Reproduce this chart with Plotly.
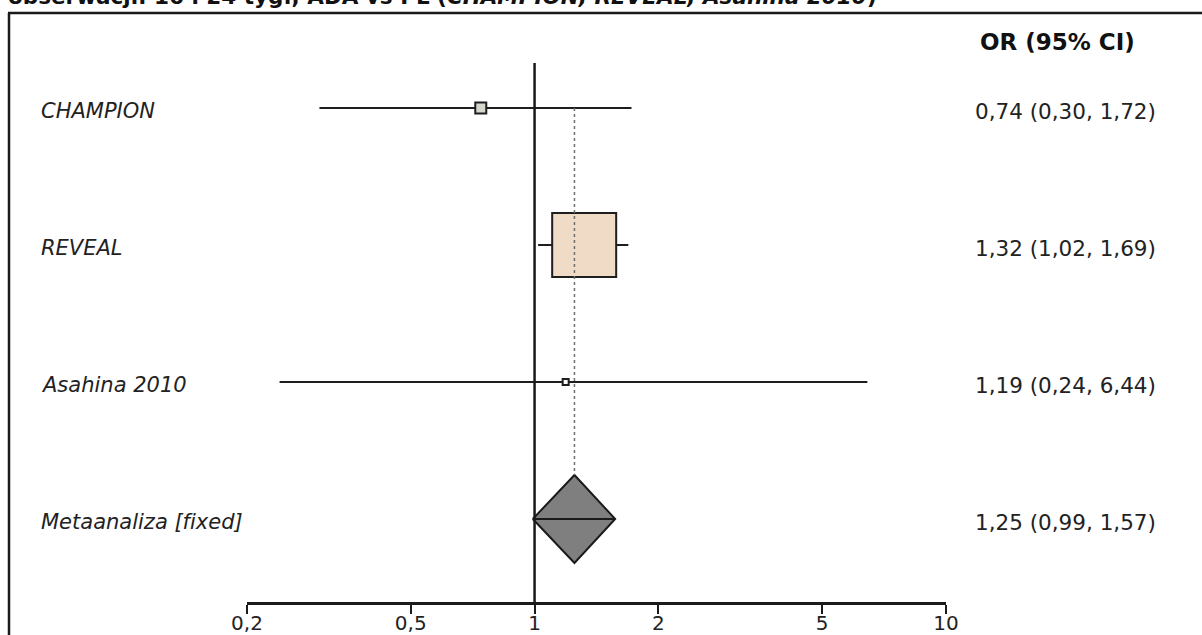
import plotly.graph_objects as go

# Study data: odds ratios with 95% confidence intervals
studies = ["CHAMPION", "REVEAL", "Asahina 2010"]
or_values = [0.74, 1.32, 1.19]
ci_low = [0.30, 1.02, 0.24]
ci_high = [1.72, 1.69, 6.44]
box_sizes = [11, 64, 6]
box_fills = ["#d6d6cf", "#f0dcc6", "#ffffff"]

pooled_label = "Metaanaliza [f\u200cixed]"
pooled_or = 1.25
pooled_low = 0.99
pooled_high = 1.57

tick_vals = [0.2, 0.5, 1, 2, 5, 10]
tick_text = ["0,2", "0,5", "1", "2", "5", "10"]

title_text = ("obserwacji: 16 i 24 tyg., ADA vs PL "
              "(<i>CHAMPION, REVEAL, Asahina 2010</i>)")
header_text = "OR (95% CI)"

W, H = 1202, 635
FONT = "DejaVu Sans"

# plot-area geometry (pixels)
X_LEFT, X_RIGHT = 247, 946
AXIS_Y = 602
ROW0_Y, ROW_STEP = 108, 137


def fx(p):
    """Pixel column -> paper x."""
    return p / W


def fy(p):
    """Pixel row (from top) -> paper y."""
    return (H - p) / H


def fmt(v):
    return f"{v:.2f}".replace(".", ",")


rows = list(range(len(studies)))
pooled_row = len(studies)
diamond_half = 44 / ROW_STEP

fig = go.Figure()

# confidence interval whiskers
for r, lo, hi in zip(rows, ci_low, ci_high):
    fig.add_trace(go.Scatter(x=[lo, hi], y=[r, r], mode="lines",
                             line=dict(color="#1e1e1e", width=1.8),
                             hoverinfo="skip", showlegend=False))

# study boxes
for r, v, s, c in zip(rows, or_values, box_sizes, box_fills):
    fig.add_trace(go.Scatter(x=[v], y=[r], mode="markers",
                             marker=dict(symbol="square", size=s, color=c,
                                         line=dict(color="#1e1e1e", width=2)),
                             showlegend=False))

# pooled estimate diamond
fig.add_trace(go.Scatter(
    x=[pooled_low, pooled_or, pooled_high, pooled_or, pooled_low],
    y=[pooled_row, pooled_row - diamond_half, pooled_row,
       pooled_row + diamond_half, pooled_row],
    mode="lines", fill="toself", fillcolor="#7f7f7f",
    line=dict(color="#1a1a1a", width=2), showlegend=False))
fig.add_trace(go.Scatter(x=[pooled_low, pooled_high],
                         y=[pooled_row, pooled_row], mode="lines",
                         line=dict(color="#1a1a1a", width=1.8),
                         showlegend=False))

shapes = []
# line of no effect
shapes.append(dict(type="line", xref="x", yref="paper", x0=1, x1=1,
                   y0=fy(AXIS_Y), y1=fy(63),
                   line=dict(color="#1a1a1a", width=2.5)))
# pooled estimate reference (dotted)
shapes.append(dict(type="line", xref="x", yref="y", x0=pooled_or,
                   x1=pooled_or, y0=0, y1=pooled_row - diamond_half,
                   line=dict(color="#6e6e6e", width=1.5, dash="dot")))
# outer frame
shapes.append(dict(type="line", xref="paper", yref="paper",
                   x0=fx(9), x1=fx(9), y0=fy(13), y1=fy(H + 5),
                   line=dict(color="#1a1a1a", width=2.5)))
shapes.append(dict(type="line", xref="paper", yref="paper",
                   x0=fx(8), x1=fx(W + 5), y0=fy(13), y1=fy(13),
                   line=dict(color="#1a1a1a", width=2.5)))

annotations = []
labels = studies + [pooled_label]
values = [f"{fmt(v)} ({fmt(lo)}, {fmt(hi)})"
          for v, lo, hi in zip(or_values, ci_low, ci_high)]
values.append(f"{fmt(pooled_or)} ({fmt(pooled_low)}, {fmt(pooled_high)})")
for r, lab, val in zip(range(len(labels)), labels, values):
    annotations.append(dict(xref="paper", yref="y", x=fx(39), y=r,
                            text=f"<i>{lab}</i>", showarrow=False,
                            xanchor="left", yanchor="middle", yshift=-3,
                            font=dict(family=FONT, size=21, color="#222222")))
    annotations.append(dict(xref="paper", yref="y", x=fx(973), y=r,
                            text=val, showarrow=False,
                            xanchor="left", yanchor="middle", yshift=-3,
                            font=dict(family=FONT, size=21.5,
                                      color="#222222")))

annotations.append(dict(xref="paper", yref="paper", x=fx(978),
                        y=fy(42), text=f"<b>{header_text}</b>",
                        showarrow=False, xanchor="left", yanchor="middle",
                        font=dict(family=FONT, size=23, color="#111111")))
annotations.append(dict(xref="paper", yref="paper", x=fx(6),
                        y=fy(-4), text=f"<b>{title_text}</b>",
                        showarrow=False, xanchor="left", yanchor="middle",
                        font=dict(family=FONT, size=21.5, color="#111111")))

fig.update_layout(
    width=W, height=H,
    margin=dict(l=0, r=0, t=0, b=0, autoexpand=False),
    paper_bgcolor="white", plot_bgcolor="white",
    shapes=shapes, annotations=annotations,
    xaxis=dict(type="log", domain=[X_LEFT / W, X_RIGHT / W],
               range=[-0.69897, 1.0], tickvals=tick_vals, ticktext=tick_text,
               showline=True, linecolor="#1a1a1a", linewidth=2.5,
               ticks="outside", ticklen=9, tickwidth=2, tickcolor="#1a1a1a",
               ticklabelstandoff=-8, automargin=False,
               showgrid=False, zeroline=False,
               tickfont=dict(family=FONT, size=20, color="#222222")),
    yaxis=dict(domain=[(H - AXIS_Y) / H, 1],
               range=[(AXIS_Y - ROW0_Y) / ROW_STEP, -ROW0_Y / ROW_STEP],
               showticklabels=False, showgrid=False, zeroline=False,
               showline=False, automargin=False),
)

fig.write_html("out.html")
